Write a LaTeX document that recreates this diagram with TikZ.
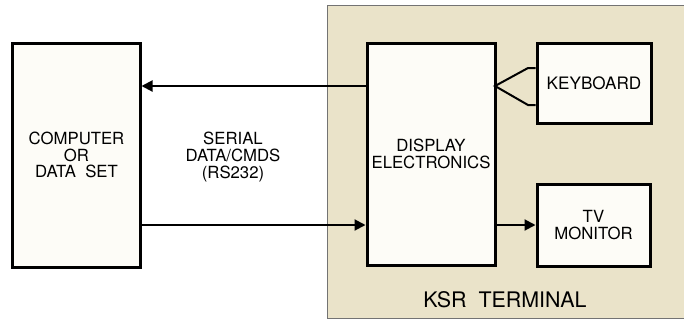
\documentclass[tikz,border=0pt]{standalone}
\usepackage{fontspec}
\setmainfont{TeX Gyre Heros}
\usetikzlibrary{arrows.meta}
\definecolor{panelbeige}{RGB}{234,227,201}
\definecolor{boxwhite}{RGB}{253,252,247}
\begin{document}
\begin{tikzpicture}[x=1bp,y=-1bp]
            %
            % `block' is used for the unit boxes.
            % `panel' is used for the terminal background.
            % `signal' is used for the data arrows.
            \tikzstyle{block} = [draw,line width=3bp,fill=boxwhite,align=center,inner sep=0pt,font=\fontsize{16.8}{16.8}\selectfont]
            \tikzstyle{panel} = [draw=black!55,line width=0.6bp,fill=panelbeige]
            \tikzstyle{signal} = [line width=2bp,-{Triangle[length=11bp,width=11bp]}]
            \tikzstyle{label} = [align=center,font=\fontsize{16.8}{16.8}\selectfont]
            %
            \useasboundingbox (0,0) rectangle (684,322);
            \fill[white] (0,0) rectangle (684,322);
            %
            % Terminal
            \node[panel,minimum width=357bp,minimum height=313bp,inner sep=0pt] (term) at (505.5,161.5) {};
            \node[font=\fontsize{21.5}{24}\selectfont] (termlabel) at (505,300) {KSR\ \ TERMINAL};
            %
            % Boxes
            \node[block,minimum width=127bp,minimum height=224bp] (comp) at (76.5,155) {COMPUTER\\OR\\DATA\ \ SET};
            \node[block,minimum width=128bp,minimum height=222bp] (disp) at (431,154) {DISPLAY\\ELECTRONICS};
            \node[block,minimum width=114bp,minimum height=80bp,font=\fontsize{17.2}{17}\selectfont] (kbd) at (594,83) {KEYBOARD};
            \node[block,minimum width=113bp,minimum height=82bp] (tv) at (593.5,225) {TV\\MONITOR};
            \node[label] (serial) at (233,157) {SERIAL\\DATA/CMDS\\(RS232)};
            %
            % Links
            \coordinate (kbtip) at (495,86);
            \coordinate (kbup) at (528,68);
            \coordinate (kbdn) at (528,105);
            \coordinate (lowline) at (0,225);
            \draw[signal] (disp.west |- kbtip) -- (comp.east |- kbtip);
            \draw[signal] (comp.east |- lowline) -- (disp.west |- lowline);
            \draw[signal] (disp.east |- lowline) -- (tv.west |- lowline);
            \draw[line width=2bp] (kbd.west |- kbup) -- (kbup) -- (kbtip) -- (kbdn) -- (kbd.west |- kbdn);
        \end{tikzpicture}
\end{document}
